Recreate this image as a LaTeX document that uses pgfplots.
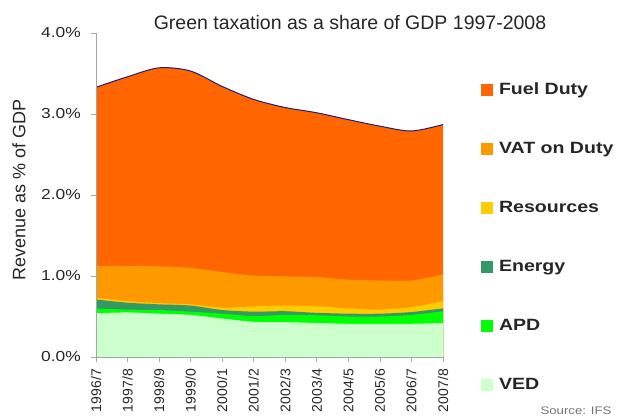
\documentclass[border=0pt]{standalone}
\usepackage{fontspec}
\setmainfont{Liberation Sans}[FakeStretch=1.2]
\newfontfamily\rotfont{Liberation Sans}
\usepackage{pgfplots}
\usepackage{pgfplotstable}
\pgfplotsset{compat=1.18}

\definecolor{fuel}{HTML}{FF6600}
\definecolor{vat}{HTML}{FF9900}
\definecolor{res}{HTML}{FFCC00}
\definecolor{energy}{HTML}{339966}
\definecolor{apd}{HTML}{00FF00}
\definecolor{ved}{HTML}{CCFFCC}
\definecolor{topline}{HTML}{1F1F7A}

% cumulative tops of each layer (% of GDP)
\pgfplotstableread{
x  tot    vat    res    energy apd    ved
0  3.33   1.12   0.73   0.71   0.60   0.54
1  3.46   1.125  0.69   0.67   0.585  0.55
2  3.57   1.12   0.665  0.65   0.58   0.535
3  3.53   1.10   0.65   0.635  0.56   0.52
4  3.34   1.05   0.61   0.58   0.535  0.475
5  3.18   1.005  0.625  0.56   0.505  0.435
6  3.08   0.995  0.635  0.565  0.52   0.43
7  3.015  0.985  0.625  0.545  0.515  0.42
8  2.93   0.955  0.60   0.535  0.50   0.41
9  2.85   0.945  0.585  0.535  0.50   0.41
10 2.79   0.945  0.615  0.555  0.52   0.41
11 2.87   1.02   0.69   0.60   0.565  0.42
}\data

\begin{document}
\begin{tikzpicture}[x=1pt,y=1pt]
\useasboundingbox (0,0) rectangle (620,419);
\begin{axis}[
  at={(96pt,62pt)}, anchor=south west,
  scale only axis, width=347pt, height=324pt,
  xmin=0, xmax=11, ymin=0, ymax=4,
  axis x line*=bottom, axis y line*=left,
  axis line style={draw=gray!70, line width=0.8pt},
  tick style={draw=gray!70, line width=0.8pt},
  tick align=outside, major tick length=5pt,
  xtick={0,...,11},
  xticklabels={1996/7,1997/8,1998/9,1999/0,2000/1,2001/2,2002/3,2003/4,2004/5,2005/6,2006/7,2007/8},
  xticklabel shift=5pt,
  xticklabel style={rotate=90, anchor=east, inner sep=2pt, font=\rotfont\fontsize{14}{14}\selectfont, text=black!85},
  ytick={0,1,2,3,4},
  yticklabels={0.0\%,1.0\%,2.0\%,3.0\%,4.0\%},
  yticklabel style={anchor=east, inner sep=2pt, xshift=-8pt, font=\fontsize{14.5}{14.5}\selectfont, text=black!85},
  ylabel={Revenue as \% of GDP},
  every axis y label/.style={at={(axis description cs:-0.222,0.515)}, anchor=center, rotate=90, font=\rotfont\fontsize{18}{18}\selectfont, text=black!85},
  legend style={draw=none, fill=none, at={(1.1095,0.845)}, anchor=north west,
    inner sep=0pt, outer sep=0pt, row sep=45pt, column sep=6pt,
    nodes={inner sep=0pt, text height=11pt, text depth=3pt, font=\bfseries\fontsize{16.3}{17}\selectfont, text=black!85}},
  legend cell align=left,
  legend image code/.code={\path[#1,draw=none] (0pt,-6pt) rectangle (12pt,6pt);},
  axis on top,
]
\addplot[fill=fuel, draw=none, smooth] table[x=x,y=tot]{\data} \closedcycle;
\addlegendentry{Fuel Duty}
\addplot[fill=vat, draw=none, smooth] table[x=x,y=vat]{\data} \closedcycle;
\addlegendentry{VAT on Duty}
\addplot[fill=res, draw=none, smooth] table[x=x,y=res]{\data} \closedcycle;
\addlegendentry{Resources}
\addplot[fill=energy, draw=none, smooth] table[x=x,y=energy]{\data} \closedcycle;
\addlegendentry{Energy}
\addplot[fill=apd, draw=none, smooth] table[x=x,y=apd]{\data} \closedcycle;
\addlegendentry{APD}
\addplot[fill=ved, draw=none, smooth] table[x=x,y=ved]{\data} \closedcycle;
\addlegendentry{VED}
\addplot[topline, line width=1pt, smooth, forget plot] table[x=x,y=tot]{\data};
\end{axis}
\node[font=\rotfont\fontsize{19.5}{19.5}\selectfont, text=black!85, anchor=base, inner sep=0pt] at (350,389) {Green taxation as a share of GDP 1997-2008};
\node[font=\fontsize{11}{11}\selectfont, text=black!55] at (576,8) {Source: IFS};
\end{tikzpicture}
\end{document}
